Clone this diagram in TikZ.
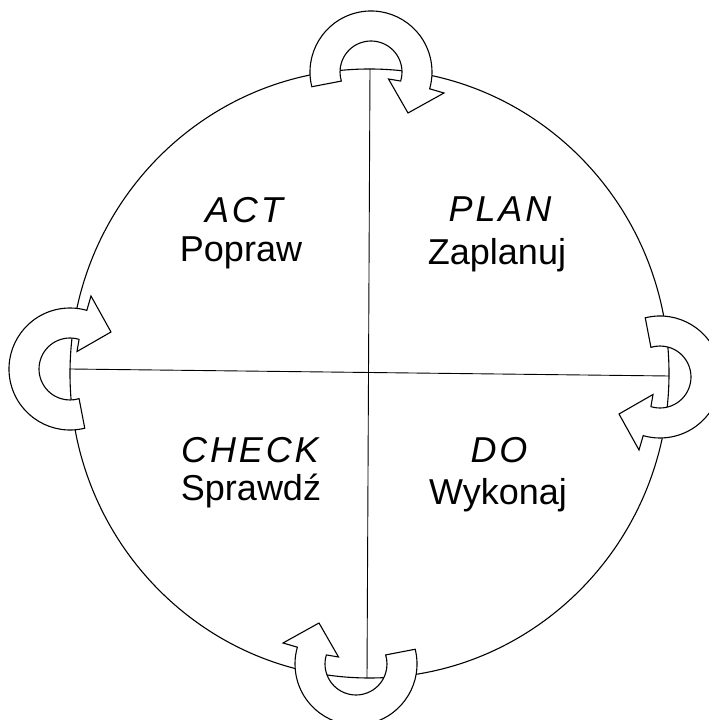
\documentclass[tikz,border=0pt]{standalone}
\usepackage{fontspec}
\setmainfont{Liberation Sans}
\newfontfamily\capsit[LetterSpace=8]{Liberation Sans}
\begin{document}
\begin{tikzpicture}[x=1pt,y=1pt,
  ring/.style={line width=1.1pt},
  axisline/.style={line width=0.9pt},
  cyclearrow/.pic={\draw[line width=1.1pt, fill=white, line join=miter]
     (194:61pt) arc[start angle=194, end angle=-16, radius=61pt]
     -- (73pt,-21pt) -- (37pt,-41pt) -- (17.5pt,-7pt)
     -- (-17:31pt) arc[start angle=-17, end angle=197, radius=31pt] -- cycle;},
  word/.style={font=\fontsize{36}{36}\selectfont, inner sep=0pt, anchor=base},
  phase/.style={font=\capsit\itshape\fontsize{36}{36}\selectfont, inner sep=0pt, anchor=base}]
\useasboundingbox (0,0) rectangle (709,720);
\fill[white] (0,0) rectangle (709,720);
\coordinate (O) at (369.5,346.5);
\coordinate (T) at (370,651);
\coordinate (B) at (367,42);
\coordinate (L) at (70,351);
\coordinate (R) at (669,344);
\draw[ring] (O) ellipse[x radius=299.5, y radius=304.5];
\draw[axisline] (T) -- (B);
\draw[axisline] (L) -- (R);
\pic at (371,648) {cyclearrow};
\pic[rotate=-90] at (660,343) {cyclearrow};
\pic[rotate=180] at (356,56) {cyclearrow};
\pic[rotate=90] at (70,351) {cyclearrow};
\node[phase] (act) at (244,497) {ACT};
\node[word] (popraw) at (241,458) {Popraw};
\node[phase] (plan) at (500,498) {PLAN};
\node[word] (zaplanuj) at (497,455) {Zaplanuj};
\node[phase] (check) at (250,257) {CHECK};
\node[word] (sprawdz) at (251,219) {Sprawdź};
\node[phase] (do) at (499,257) {DO};
\node[word] (wykonaj) at (498,215) {Wykonaj};
\end{tikzpicture}
\end{document}
